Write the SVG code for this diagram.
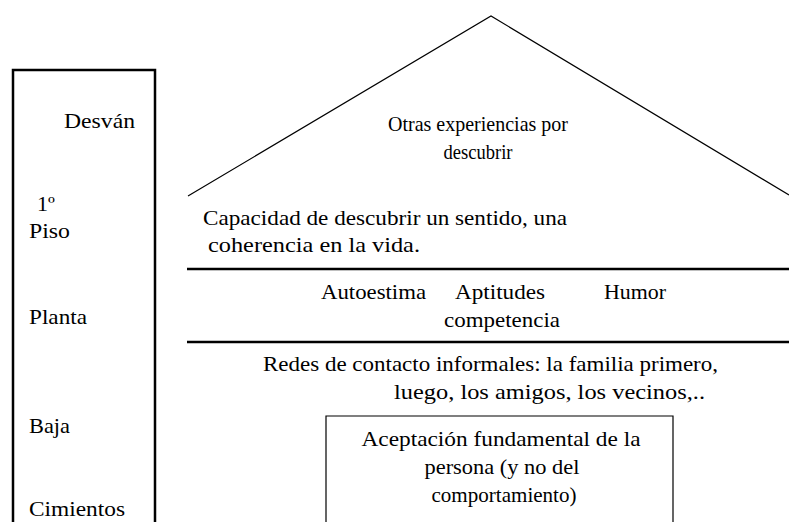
<svg xmlns="http://www.w3.org/2000/svg" width="789" height="522" viewBox="0 0 789 522">
<style>
text{font-family:"Liberation Serif","Times New Roman",serif;font-size:22px;fill:#000}
.thick{stroke:#000;stroke-width:2.5;fill:none}
.thin{stroke:#000;stroke-width:1.2;fill:none}
</style>
<rect width="789" height="522" fill="#fff"/>
<g id="levels">
<path class="thick" d="M13,524 V70 H155 V524"/>
<text x="64" y="128" textLength="71" lengthAdjust="spacingAndGlyphs">Desván</text>
<text x="37" y="211">1º</text>
<text x="29" y="238" textLength="41" lengthAdjust="spacingAndGlyphs">Piso</text>
<text x="29" y="324" textLength="58" lengthAdjust="spacingAndGlyphs">Planta</text>
<text x="29" y="433" textLength="41" lengthAdjust="spacingAndGlyphs">Baja</text>
<text x="29" y="516" textLength="96" lengthAdjust="spacingAndGlyphs">Cimientos</text>
</g>
<g id="connectors">
<polyline class="thin" points="188,196 491,16 789,195"/>
<line class="thick" x1="187" y1="269" x2="789" y2="269"/>
<line class="thick" x1="187" y1="342" x2="789" y2="342"/>
</g>
<g id="desvan">
<text x="478" y="131" text-anchor="middle" textLength="180" lengthAdjust="spacingAndGlyphs">Otras experiencias por</text>
<text x="478" y="159" text-anchor="middle" textLength="69" lengthAdjust="spacingAndGlyphs">descubrir</text>
</g>
<g id="piso1">
<text x="203" y="225" textLength="364" lengthAdjust="spacingAndGlyphs">Capacidad de descubrir un sentido, una</text>
<text x="208" y="252" textLength="212" lengthAdjust="spacingAndGlyphs">coherencia en la vida.</text>
</g>
<g id="planta">
<text x="321" y="299" textLength="105" lengthAdjust="spacingAndGlyphs">Autoestima</text>
<text x="455" y="299" textLength="90" lengthAdjust="spacingAndGlyphs">Aptitudes</text>
<text x="604" y="299" textLength="62" lengthAdjust="spacingAndGlyphs">Humor</text>
<text x="444" y="327" textLength="116" lengthAdjust="spacingAndGlyphs">competencia</text>
</g>
<g id="baja">
<text x="263" y="371" textLength="455" lengthAdjust="spacingAndGlyphs">Redes de contacto informales: la familia primero,</text>
<text x="394" y="399" textLength="311" lengthAdjust="spacingAndGlyphs">luego, los amigos, los vecinos,..</text>
</g>
<g id="cimientos">
<path class="thin" d="M326,524 V416 H673 V524"/>
<text x="501" y="446" text-anchor="middle" textLength="279" lengthAdjust="spacingAndGlyphs">Aceptación fundamental de la</text>
<text x="502" y="474" text-anchor="middle" textLength="155" lengthAdjust="spacingAndGlyphs">persona (y no del</text>
<text x="504" y="502" text-anchor="middle" textLength="145" lengthAdjust="spacingAndGlyphs">comportamiento)</text>
</g>
</svg>
